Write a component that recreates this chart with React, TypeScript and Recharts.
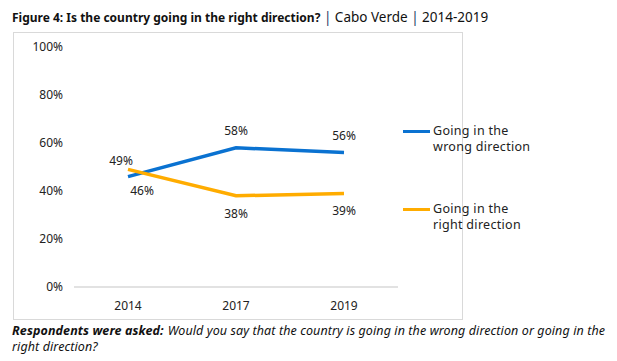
import { LabelList, Line, LineChart, XAxis, YAxis } from 'recharts';

const YEARS = ['2014', '2017', '2019'];
const WRONG = [46, 58, 56];
const RIGHT = [49, 38, 39];
const Y_TICKS = [0, 20, 40, 60, 80, 100];

const SERIES = [
  { key: 'wrong', name: 'Going in the wrong direction', lines: ['Going in the', 'wrong direction'], color: '#0A72D1' },
  { key: 'right', name: 'Going in the right direction', lines: ['Going in the', 'right direction'], color: '#FFAC00' },
];

const data = YEARS.map((year, i) => ({ year, wrong: WRONG[i], right: RIGHT[i] }));

const FONT = "'Noto Sans', sans-serif";
const TEXT = '#222';

// label above the point for the higher series, below for the lower one
function makeLabel(key: string) {
  return (props: any) => {
    const { x, y, value, index } = props;
    const other = key === 'wrong' ? RIGHT[index] : WRONG[index];
    const above = value > other;
    let dx = 0;
    let dy = above ? -13 : 22;
    if (index === 0) {
      dx = above ? -7 : 14;
      dy = above ? -4 : 18;
    }
    return (
      <text
        x={x + dx}
        y={y + dy}
        textAnchor="middle"
        fontSize={12}
        fontFamily={FONT}
        fill={TEXT}
      >
        {value}%
      </text>
    );
  };
}

function LegendBox() {
  return (
    <div style={{ position: 'absolute', left: 403, top: 123, fontFamily: FONT, fontSize: 12.5, letterSpacing: 0.3, color: TEXT, lineHeight: '16px', whiteSpace: 'nowrap' }}>
      {SERIES.map((s, i) => (
        <div key={s.key} style={{ display: 'flex', alignItems: 'flex-start', marginTop: i === 0 ? 0 : 46 }}>
          <div style={{ width: 27, height: 3, background: s.color, marginTop: 7, marginRight: 3 }} />
          <div>
            {s.lines.map((l) => (
              <div key={l}>{l}</div>
            ))}
          </div>
        </div>
      ))}
    </div>
  );
}

export default function App() {
  return (
    <div style={{ position: 'absolute', left: 0, top: 0, width: 617, height: 361, background: '#fff', fontFamily: FONT }}>
      <div style={{ position: 'absolute', left: 12, top: 8, fontSize: 13.5, color: '#111', whiteSpace: 'nowrap' }}>
        <b style={{ fontSize: 12 }}>Figure 4: Is the country going in the right direction?</b>
        <span style={{ color: '#1F3864' }}> | </span>
        Cabo Verde
        <span style={{ color: '#1F3864' }}> | </span>
        2014-2019
      </div>
      <div
        style={{
          position: 'absolute',
          left: 13,
          top: 32,
          width: 448,
          height: 286,
          border: '1px solid #d9d9d9',
        }}
      >
        <LineChart
          width={448}
          height={286}
          data={data}
          margin={{ top: 14, right: 64, bottom: 2, left: 0 }}
        >
          <XAxis
            dataKey="year"
            height={30}
            padding={{ left: 54, right: 54 }}
            axisLine={{ stroke: '#d9d9d9', strokeWidth: 1.5 }}
            tickLine={false}
            tick={{ fontSize: 12, fill: TEXT, fontFamily: FONT }}
            tickMargin={8}
          />
          <YAxis
            domain={[0, 100]}
            ticks={Y_TICKS}
            width={60}
            axisLine={false}
            tickLine={false}
            tickSize={0}
            tickMargin={11}
            tickFormatter={(v) => `${v}%`}
            tick={{ fontSize: 12, fill: TEXT, fontFamily: FONT }}
          />
          {SERIES.map((s) => (
            <Line
              key={s.key}
              dataKey={s.key}
              name={s.name}
              stroke={s.color}
              strokeWidth={3.5}
              dot={false}
              type="linear"
              isAnimationActive={false}
            >
              <LabelList dataKey={s.key} content={makeLabel(s.key)} />
            </Line>
          ))}
        </LineChart>
      </div>
      <LegendBox />
      <div style={{ position: 'absolute', left: 12, top: 323, fontSize: 12.5, letterSpacing: 0.1, fontStyle: 'italic', color: '#111', lineHeight: '16px', whiteSpace: 'nowrap' }}>
        <div>
          <b style={{ marginRight: 4 }}>Respondents were asked:</b>
          <span>Would you say that the country is going in the wrong direction or going in the</span>
        </div>
        <div>right direction?</div>
      </div>
    </div>
  );
}
